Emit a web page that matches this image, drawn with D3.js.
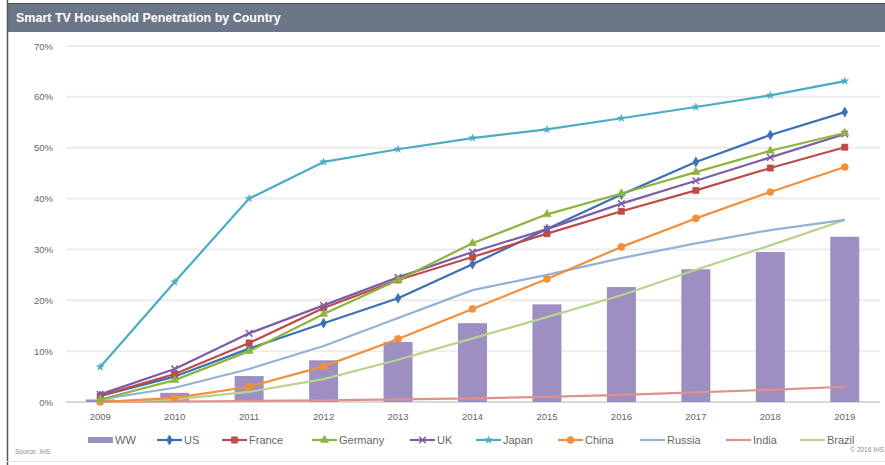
<!DOCTYPE html>
<html><head><meta charset="utf-8">
<script src="https://cdn.jsdelivr.net/npm/d3@7"></script>
<style>body{margin:0;background:#fff;}svg{display:block;font-family:"Liberation Sans",Arial,sans-serif;}</style>
</head><body><svg id="c" width="885" height="465"></svg>
<script>
const years = ["2009","2010","2011","2012","2013","2014","2015","2016","2017","2018","2019"];
const yTicks = [0,10,20,30,40,50,60,70];
const ww      = [0.5, 1.8, 5.1, 8.2, 11.8, 15.5, 19.2, 22.6, 26.1, 29.5, 32.5];
const us      = [1.2, 5.0, 10.5, 15.5, 20.4, 27.1, 34.0, 40.8, 47.2, 52.5, 57.0];
const france  = [1.2, 5.5, 11.6, 18.5, 24.0, 28.5, 33.1, 37.5, 41.6, 46.0, 50.1];
const germany = [0.5, 4.3, 10.0, 17.3, 24.0, 31.2, 36.9, 41.0, 45.2, 49.4, 52.9];
const uk      = [1.5, 6.5, 13.5, 19.0, 24.5, 29.5, 34.0, 39.0, 43.5, 48.1, 52.7];
const japan   = [6.9, 23.6, 40.0, 47.2, 49.7, 51.9, 53.6, 55.8, 58.0, 60.3, 63.1];
const china   = [0.0, 0.8, 3.0, 7.0, 12.4, 18.3, 24.2, 30.5, 36.1, 41.3, 46.2];
const russia  = [0.5, 2.8, 6.5, 11.0, 16.5, 22.0, 25.0, 28.3, 31.2, 33.8, 35.8];
const india   = [0.0, 0.1, 0.2, 0.3, 0.5, 0.7, 1.0, 1.4, 1.9, 2.4, 3.0];
const brazil  = [0.0, 0.5, 2.0, 4.5, 8.3, 12.5, 16.7, 21.0, 26.0, 30.8, 35.8];

const series = [
  {name:"US", values:us, color:"#3d6fb4", marker:"diamond"},
  {name:"France", values:france, color:"#be4b48", marker:"square"},
  {name:"Germany", values:germany, color:"#8db43f", marker:"triangle"},
  {name:"UK", values:uk, color:"#7b5ea6", marker:"cross"},
  {name:"Japan", values:japan, color:"#4aacc5", marker:"star"},
  {name:"China", values:china, color:"#f28f3b", marker:"circle"},
  {name:"Russia", values:russia, color:"#93b1d8", marker:null},
  {name:"India", values:india, color:"#e0908d", marker:null},
  {name:"Brazil", values:brazil, color:"#b7d38c", marker:null}
];

const svg = d3.select("#c");
// frame
svg.append("rect").attr("x",7).attr("y",3).attr("width",878).attr("height",29).attr("fill","#6c7689");
svg.append("line").attr("x1",7).attr("x2",885).attr("y1",3.5).attr("y2",3.5).attr("stroke","#4a4f5a");
svg.append("line").attr("x1",7.5).attr("x2",7.5).attr("y1",0).attr("y2",465).attr("stroke","#555").attr("stroke-width",1.5);
svg.append("line").attr("x1",7).attr("x2",885).attr("y1",461.5).attr("y2",461.5).attr("stroke","#e4e4e4");
svg.append("text").attr("x",16).attr("y",22).attr("fill","#fff").attr("font-size",12.5).attr("font-weight","bold")
  .text("Smart TV Household Penetration by Country");

const x = d3.scaleBand().domain(years).range([63,882]);
const y = d3.scaleLinear().domain([0,70]).range([402,46]);

const grid = svg.append("g");
grid.selectAll("line").data(yTicks).join("line")
  .attr("x1",66).attr("x2",880).attr("y1",d=>y(d)).attr("y2",d=>y(d))
  .attr("stroke",d=>d===0?"#d9d9d9":"#ececec").attr("stroke-width",2);

const yAxis = svg.append("g").attr("transform","translate(56,0)")
  .call(d3.axisLeft(y).tickValues(yTicks).tickFormat(d=>d+"%").tickSize(0));
yAxis.select(".domain").remove();
yAxis.selectAll("text").attr("fill","#666").attr("font-size",9.5).attr("font-family","Liberation Sans, Arial, sans-serif");

const xAxis = svg.append("g").attr("transform","translate(0,412)")
  .call(d3.axisBottom(x).tickSize(0));
xAxis.select(".domain").remove();
xAxis.selectAll("text").attr("fill","#666").attr("font-size",9.5).attr("dy","0.5em").attr("font-family","Liberation Sans, Arial, sans-serif");

// bars
const bw = 29;
svg.append("g").selectAll("rect").data(ww).join("rect")
  .attr("x",(d,i)=>x(years[i])+x.bandwidth()/2-bw/2).attr("width",bw)
  .attr("y",d=>y(d)).attr("height",d=>y(0)-y(d)).attr("fill","#9e8fc3");

const line = d3.line().x((d,i)=>x(years[i])+x.bandwidth()/2).y(d=>y(d));
const drawOrder = ["India","Brazil","Russia","China","Japan","US","France","UK","Germany"];
const sym = {diamond:d3.symbolDiamond, square:d3.symbolSquare, triangle:d3.symbolTriangle, cross:d3.symbolX, star:d3.symbolStar, circle:d3.symbolCircle};
const sizes = {diamond:30, square:40, triangle:30, cross:30, star:18, circle:40};
drawOrder.forEach(n=>{
  const s = series.find(t=>t.name===n);
  svg.append("path").datum(s.values).attr("d",line).attr("fill","none").attr("stroke",s.color).attr("stroke-width",2.2).attr("stroke-linejoin","round");
  if(s.marker){
    svg.append("g").selectAll("path").data(s.values).join("path")
      .attr("transform",(d,i)=>`translate(${x(years[i])+x.bandwidth()/2},${y(d)})`)
      .attr("d",d3.symbol().type(sym[s.marker]).size(sizes[s.marker]))
      .attr("fill",s.marker==="cross"?"none":s.color).attr("stroke",s.color).attr("stroke-width",s.marker==="cross"?1.5:0.5);
  }
});

// legend
const legendItems = [{name:"WW", color:"#9e8fc3", marker:"bar"}].concat(series);
const legendX = [88,157,222,312,410,476,558,640,726,800];
const lg = svg.append("g");
legendItems.forEach((s,i)=>{
  const g = lg.append("g").attr("transform",`translate(${legendX[i]},440)`);
  if(s.marker==="bar"){
    g.append("rect").attr("x",0).attr("y",-3).attr("width",25).attr("height",6).attr("fill",s.color);
  } else {
    g.append("line").attr("x1",0).attr("x2",25).attr("y1",0).attr("y2",0).attr("stroke",s.color).attr("stroke-width",2.2);
    if(s.marker){
      g.append("path").attr("transform","translate(12.5,0)")
        .attr("d",d3.symbol().type(sym[s.marker]).size(sizes[s.marker]))
        .attr("fill",s.marker==="cross"?"none":s.color).attr("stroke",s.color).attr("stroke-width",s.marker==="cross"?1.5:0.5);
    }
  }
  g.append("text").attr("x",27).attr("y",4).attr("fill","#666").attr("font-size",11).text(s.name);
});

svg.append("text").attr("x",15).attr("y",454).attr("fill","#888").attr("font-size",6.5).text("Source: IHS");
svg.append("text").attr("x",884).attr("y",452).attr("text-anchor","end").attr("fill","#888").attr("font-size",6.5).text("© 2016 IHS");
</script></body></html>
